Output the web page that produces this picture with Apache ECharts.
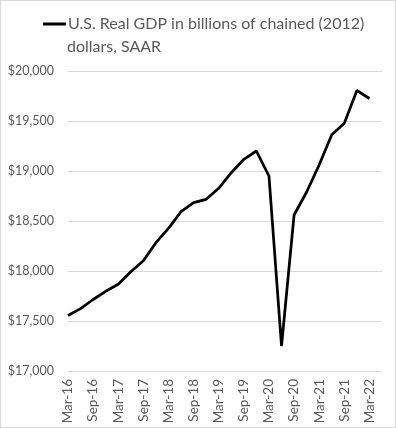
<!DOCTYPE html>
<html>
<head>
<meta charset="utf-8">
<script src="https://cdn.jsdelivr.net/npm/echarts@6/dist/echarts.min.js"></script>
<style>
  html, body { margin: 0; padding: 0; background: #fff; }
  #chart { width: 394px; height: 426px; border: 1px solid #d9d9d9; }
</style>
</head>
<body>
<div id="chart"></div>
<script>
// quarterly, Mar-16 .. Mar-22 (last slot Jun-22 left empty)
const quarters = [
  'Mar-16', 'Jun-16', 'Sep-16', 'Dec-16',
  'Mar-17', 'Jun-17', 'Sep-17', 'Dec-17',
  'Mar-18', 'Jun-18', 'Sep-18', 'Dec-18',
  'Mar-19', 'Jun-19', 'Sep-19', 'Dec-19',
  'Mar-20', 'Jun-20', 'Sep-20', 'Dec-20',
  'Mar-21', 'Jun-21', 'Sep-21', 'Dec-21',
  'Mar-22', 'Jun-22'
]
const gdp = [
  17555, 17624, 17715, 17797,
  17867, 17993, 18103, 18283,
  18427, 18593, 18683, 18717,
  18827, 18983, 19117, 19200,
  18950, 17250, 18560, 18790,
  19062, 19362, 19478, 19805,
  19725, null
]
const seriesName = 'U.S. Real GDP in billions of chained (2012)'
const seriesName2 = 'dollars, SAAR'

const chart = echarts.init(document.getElementById('chart'))

chart.setOption({
  animation: false,
  title: {
    text: seriesName2,
    left: 61,
    top: 33,
    textStyle: { fontFamily: 'Lato', fontSize: 16, fontWeight: 'normal', color: '#595959' }
  },
  legend: {
    data: [seriesName],
    left: 37,
    top: 10,
    itemWidth: 23,
    itemHeight: 3,
    itemGap: 2,
    icon: 'rect',
    textStyle: { fontFamily: 'Lato', fontSize: 16, color: '#595959', padding: [0, 0, 0, -3] }
  },
  grid: {
    left: 67,
    right: 13,
    top: 70,
    bottom: 56
  },
  xAxis: {
    type: 'category',
    boundaryGap: false,
    data: quarters,
    axisLine: { show: false },
    axisTick: { show: false },
    axisLabel: {
      interval: 1,
      rotate: 90,
      fontFamily: 'Lato',
      fontSize: 13.5,
      color: '#595959',
      margin: 8
    }
  },
  yAxis: {
    type: 'value',
    min: 17000,
    max: 20000,
    interval: 500,
    axisLine: { show: false },
    axisTick: { show: false },
    splitLine: { lineStyle: { color: '#d9d9d9', width: 1 } },
    axisLabel: {
      fontFamily: 'Lato',
      fontSize: 12.5,
      color: '#595959',
      margin: 14,
      formatter: v => '$' + v.toLocaleString('en-US')
    }
  },
  series: [
    {
      name: seriesName,
      type: 'line',
      data: gdp,
      symbol: 'none',
      lineStyle: { color: '#000', width: 2.75 },
      itemStyle: { color: '#000' }
    }
  ]
})
</script>
</body>
</html>
